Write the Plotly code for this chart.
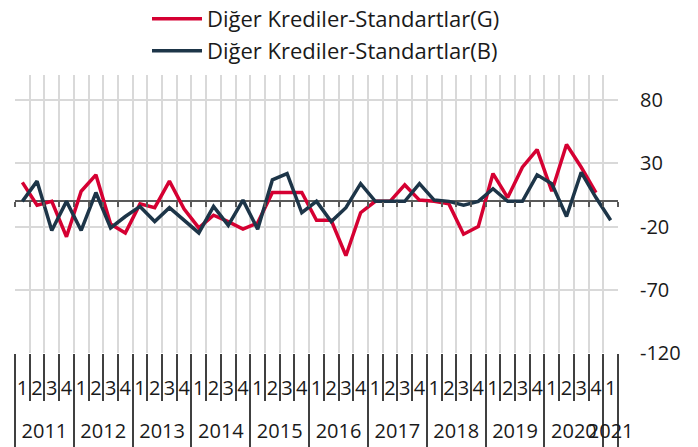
import plotly.graph_objects as go

years = [str(y) for y in range(2011, 2021) for _ in range(4)] + ["2021"]
quarters = [str(q) for _ in range(2011, 2021) for q in range(1, 5)] + ["1"]

G = [15, -3, 0, -28, 8, 21, -18, -25, -2, -5, 16, -6, -21, -11, -16, -22, -17, 7, 7, 7,
     -15, -15, -43, -9, 0, 0, 13, 1, 0, -2, -26, -20, 22, 3, 27, 41, 8, 45, 27, 7, None]
B = [0, 16, -23, 0, -23, 7, -21, -12, -4, -16, -5, -15, -25, -4, -19, 1, -22, 17, 22, -9,
     0, -16, -5, 14, 0, 0, 0, 14, 1, 0, -3, 0, 10, 0, 0, 21, 14, -12, 23, 3, -15]

y_ticks = list(range(-120, 81, 50))

RED = "#D50032"
NAVY = "#1D3548"
FONT = "Open Sans"
GRID = "#D9D9D9"
DARK = "#404040"

W, H = 690, 439  # page body has an 8px margin inside the 698x447 window

n = len(years)
idx = list(range(n))
xr = [-0.5, n - 0.5]

# year groups derived from the category list
year_names = []
year_pos = {}
for i, y in enumerate(years):
    if y not in year_pos:
        year_names.append(y)
        year_pos[y] = []
    year_pos[y].append(i)
year_centers = [sum(year_pos[y]) / len(year_pos[y]) for y in year_names]
year_bounds = [year_pos[y][0] - 0.5 for y in year_names] + [n - 0.5]

fig = go.Figure()
fig.add_trace(go.Scatter(x=idx, y=G, mode="lines", name="Diğer Krediler-Standartlar(G)",
                         line=dict(color=RED, width=3.5), legend="legend"))
fig.add_trace(go.Scatter(x=idx, y=B, mode="lines", name="Diğer Krediler-Standartlar(B)",
                         line=dict(color=NAVY, width=3.5), legend="legend2"))
# invisible helper traces for the auxiliary axes
for ax in ["x2", "x3", "x4", "x5"]:
    fig.add_trace(go.Scatter(x=idx, y=B, xaxis=ax, mode="lines", opacity=0, showlegend=False,
                             hoverinfo="skip", line=dict(width=0)))

y_min, y_max = -120, 100
zero_frac = (0 - y_min) / (y_max - y_min)

common = dict(range=xr, showgrid=False, zeroline=False, showline=False, automargin=False)
leg = dict(orientation="v", xref="container", yref="container", xanchor="left", yanchor="middle",
           font=dict(size=22), itemwidth=50, bgcolor="rgba(0,0,0,0)")

fig.update_layout(
    width=W, height=H,
    margin=dict(l=7, r=80, t=67, b=94, autoexpand=False),
    paper_bgcolor="white", plot_bgcolor="white",
    font=dict(family=FONT, size=20, color="#1a1a1a"),
    showlegend=True,
    legend=dict(x=139 / W, y=1 - 11 / H, **leg),
    legend2=dict(x=139 / W, y=1 - 43 / H, **leg),
    # main axis: gridlines + quarter dividers at category boundaries
    xaxis=dict(range=xr, tickmode="linear", tick0=-0.5, dtick=1, showgrid=True, gridcolor=GRID,
               gridwidth=1.5, ticks="outside", ticklen=47, tickwidth=1.5, tickcolor=DARK,
               showticklabels=False, zeroline=False, showline=False, automargin=False),
    # ticks along the zero line
    xaxis2=dict(overlaying="x", anchor="free", position=zero_frac, tickmode="linear", tick0=-0.5,
                dtick=1, ticks="outside", ticklen=5, tickwidth=1.5, tickcolor="#595959",
                showticklabels=False, **common),
    # quarter labels
    xaxis3=dict(overlaying="x", anchor="y", side="bottom", tickmode="array", tickvals=idx,
                ticktext=quarters, ticks="", ticklabelstandoff=21, tickangle=0,
                tickfont=dict(size=20), **common),
    # year dividers
    xaxis4=dict(overlaying="x", anchor="y", side="bottom", tickmode="array", tickvals=year_bounds,
                ticks="outside", ticklen=94, tickwidth=1.5, tickcolor=DARK, showticklabels=False,
                **common),
    # year labels
    xaxis5=dict(overlaying="x", anchor="y", side="bottom", tickmode="array", tickvals=year_centers,
                ticktext=year_names, ticks="", ticklabelstandoff=64, tickangle=0,
                tickfont=dict(size=20), **common),
    yaxis=dict(side="right", range=[y_min, y_max], tickmode="array", tickvals=y_ticks,
               ticktext=[str(v) for v in y_ticks],
               showgrid=True, gridcolor=GRID, gridwidth=1.5, zeroline=True,
               zerolinecolor="#595959", zerolinewidth=1.5, ticklabelstandoff=21,
               tickfont=dict(size=20), showline=False, automargin=False),
)

fig.write_html("out.html")
